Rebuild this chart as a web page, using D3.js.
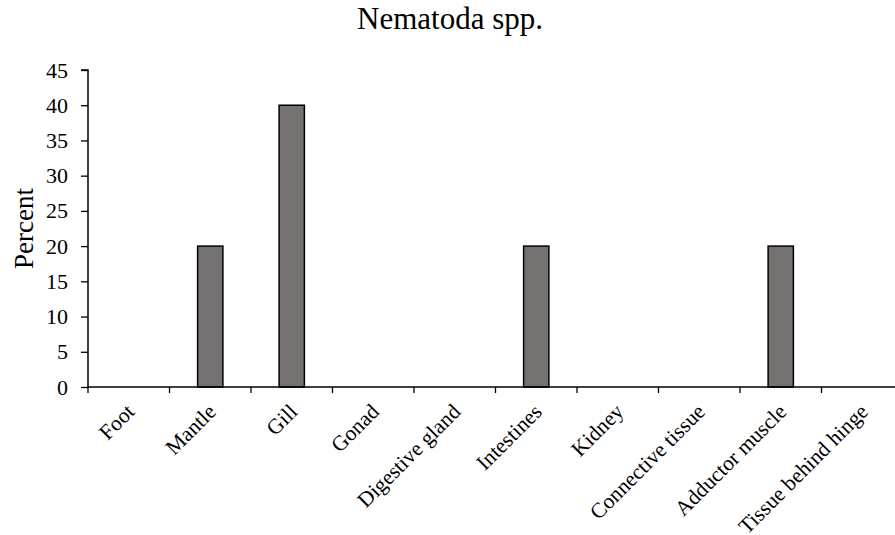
<!DOCTYPE html>
<html><head><meta charset="utf-8">
<script src="https://cdn.jsdelivr.net/npm/d3@7"></script>
<style>body{margin:0;background:#fff}svg{display:block}</style>
</head><body>
<svg id="c" width="895" height="535"></svg>
<script>
const categories = ["Foot","Mantle","Gill","Gonad","Digestive gland","Intestines","Kidney","Connective tissue","Adductor muscle","Tissue behind hinge"];
const values = [0,20,40,0,0,20,0,0,20,0];
const yTicks = [0,5,10,15,20,25,30,35,40,45];
const title = "Nematoda spp.";
const yLabel = "Percent";

(function(){
const font = "'Liberation Serif','Times New Roman',serif";
const svg = d3.select("#c");
const pL = 88, pR = 903, pT = 70, pB = 387;

const x = d3.scaleBand().domain(categories).range([pL, pR]).paddingInner(0.69).paddingOuter(0.345);
const xb = d3.scaleBand().domain(categories).range([pL, pR]);
const y = d3.scaleLinear().domain([0,45]).range([pB, pT]);

svg.append("text").attr("x",450).attr("y",29).attr("text-anchor","middle")
  .style("font-family",font).style("font-size","31px").text(title);

svg.append("text").attr("transform",`translate(33,${(pT+pB)/2}) rotate(-90)`)
  .attr("text-anchor","middle").style("font-family",font).style("font-size","27px").text(yLabel);

svg.selectAll("rect.bar").data(values.map((v,i)=>({c:categories[i],v})).filter(d=>d.v>0))
  .enter().append("rect").attr("class","bar")
  .attr("x",d=>x(d.c)).attr("width",x.bandwidth())
  .attr("y",d=>y(d.v)).attr("height",d=>y(0)-y(d.v))
  .attr("fill","#767171").attr("stroke","#000").attr("stroke-width",1.5);

const ya = svg.append("g").attr("transform",`translate(${pL},0)`)
  .call(d3.axisLeft(y).tickValues(yTicks).tickSize(7).tickPadding(13));
ya.select(".domain").attr("stroke-width",1.5).attr("d",`M-7,${pT}H0V${pB}`);
ya.selectAll(".tick line").attr("stroke-width",1.3);
ya.selectAll("text").style("font-family",font).style("font-size","22px").attr("fill","#000");

const xa = svg.append("g").attr("transform",`translate(0,${pB})`);
xa.append("line").attr("x1",pL).attr("x2",pR).attr("stroke","#000").attr("stroke-width",1.5);
const bounds = categories.map(c=>xb(c)).concat([pR]);
xa.selectAll("line.t").data(bounds).enter().append("line").attr("class","t")
  .attr("x1",d=>d).attr("x2",d=>d).attr("y1",0).attr("y2",6).attr("stroke","#000").attr("stroke-width",1.3);
xa.selectAll("text.lbl").data(categories).enter().append("text").attr("class","lbl")
  .attr("transform",d=>`translate(${xb(d)+xb.bandwidth()/2+7},${26}) rotate(-45)`)
  .attr("text-anchor","end")
  .style("font-family",font).style("font-size","21.5px").text(d=>d);
})();
</script>
</body></html>
